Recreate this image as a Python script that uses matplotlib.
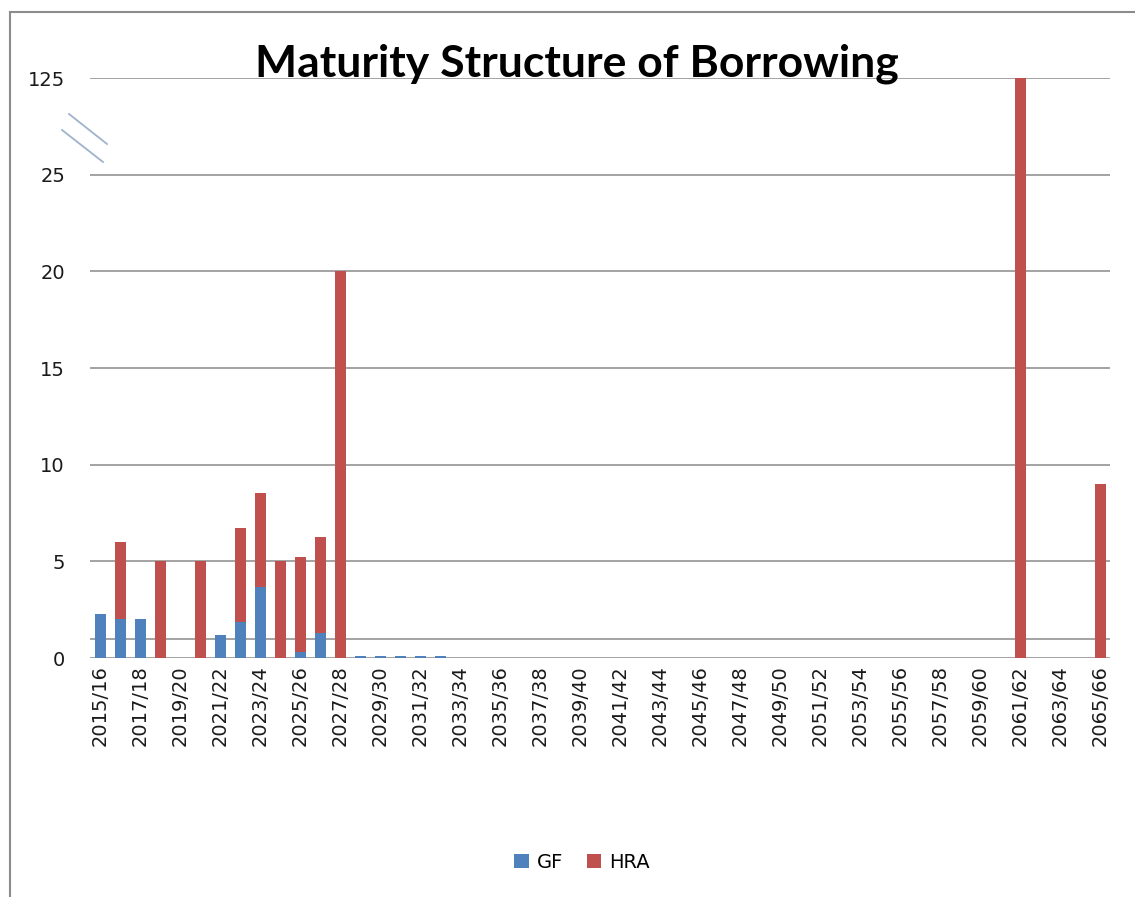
import numpy as np
import matplotlib
matplotlib.use("Agg")
import matplotlib.pyplot as plt
from matplotlib.lines import Line2D
from matplotlib.patches import Patch

years = [f"{y}/{(y + 1) % 100:02d}" for y in range(2015, 2066)]
gf = [2.3, 2.0, 2.0, 0, 0, 0, 1.2, 1.85, 3.65, 0, 0.3, 1.3, 0,
      0.08, 0.08, 0.08, 0.08, 0.08] + [0] * 33
hra = [0, 4.0, 0, 5.0, 0, 5.0, 0, 4.9, 4.9, 5.0, 4.9, 4.95, 20.0] + [0] * 38
hra[46] = 125.0
hra[50] = 9.0
ytick_vals = [0, 5, 10, 15, 20, 25, 125]
title = "Maturity Structure of Borrowing"

BLUE = "#4F81BD"
RED = "#C0504D"
GRID = "#8a8a8a"
TXT = "#1a1a1a"

W, H = 1135, 897
fig = plt.figure(figsize=(W / 100, H / 100), dpi=100)
ax = fig.add_axes([90 / W, (H - 658) / H, 1020 / W, 580 / H])


def fwd(v):
    v = np.asarray(v, dtype=float)
    return np.where(v <= 25, v, 25 + (v - 25) / 20.0)


def inv(d):
    d = np.asarray(d, dtype=float)
    return np.where(d <= 25, d, 25 + (d - 25) * 20.0)


ax.set_yscale("function", functions=(fwd, inv))
x = np.arange(len(years))
gf_a = np.array(gf)
hra_a = np.array(hra)
ax.bar(x, gf_a, width=0.55, color=BLUE, zorder=3)
ax.bar(x, hra_a, bottom=gf_a, width=0.55, color=RED, zorder=3)

ax.set_xlim(-0.5, len(years) - 0.5)
ax.set_ylim(0, 125)
ax.set_yticks(ytick_vals)
ax.set_yticklabels([str(v) for v in ytick_vals], fontsize=14, color=TXT)
for v in ytick_vals:
    ax.axhline(v, color=GRID, lw=1.1, zorder=1)
ax.axhline(1, color=GRID, lw=1.1, zorder=1)

ax.set_xticks(x[::2])
ax.set_xticklabels(years[::2], rotation=90, fontsize=14, color=TXT)
ax.tick_params(axis="both", length=0)
ax.tick_params(axis="y", pad=18)
ax.tick_params(axis="x", pad=5)
for s in ax.spines.values():
    s.set_visible(False)

fig.text(577 / W, (H - 77) / H, title, ha="center", va="baseline",
         fontsize=32, fontweight="bold", family="Lato", color="black")

# axis break marks
fig.add_artist(Line2D([69 / W, 107 / W], [(H - 114) / H, (H - 144) / H],
                      color="#9fb3cc", lw=1.3))
fig.add_artist(Line2D([62 / W, 103 / W], [(H - 130) / H, (H - 162) / H],
                      color="#9fb3cc", lw=1.3))

# outer frame
fig.add_artist(Line2D([10 / W, 10 / W], [(H - 12) / H, 0], color="#8c8c8c", lw=1.5))
fig.add_artist(Line2D([10 / W, 1.0], [(H - 12) / H, (H - 12) / H], color="#8c8c8c", lw=1.5))

handles = [Patch(facecolor=BLUE, label="GF"), Patch(facecolor=RED, label="HRA")]
fig.legend(handles=handles, loc="center", bbox_to_anchor=(582 / W, (H - 862) / H),
           ncol=2, frameon=False, fontsize=14, handlelength=0.75, handleheight=0.75,
           handletextpad=0.4, columnspacing=1.2)

fig.savefig("out.png", dpi=100)
